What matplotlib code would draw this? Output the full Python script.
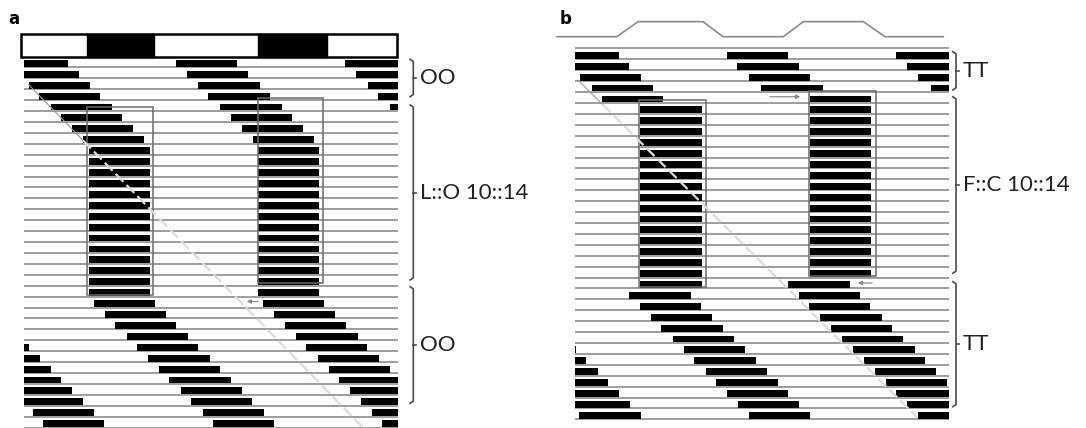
import matplotlib
matplotlib.use("Agg")
import matplotlib.pyplot as plt
from matplotlib.patches import Rectangle

# x in hours (one plotted day = 24 h), y in rows (one row per day, 1 = top)
DAY = 24.0
XMAX = 53.0
ROWS = list(range(1, 35))

# panel a: activity onset per row (h): free run -> L::O 10::14 -> free run
a_onset = [-2.4, -0.84, 0.78, 2.2, 3.9, 5.35, 6.9, 8.45,
           9.25, 9.25, 9.25, 9.25, 9.25, 9.25, 9.25,
           9.25, 9.25, 9.25, 9.25, 9.25, 9.25, 9.25,
           9.93, 11.53, 13.0, 14.66, 16.07, 17.7, 19.2, 20.67,
           22.25, 23.74, 25.37, 26.81]
a_active = 8.65
a_dark = [(9.04, 18.48), (33.26, 42.95)]
a_boxes = [(9.04, 18.30, 4.68, 21.84), (33.26, 42.38, 3.77, 20.77)]
a_sections = [("OO", 0.27, 3.69), ("L::O 10::14", 4.45, 20.48), ("OO", 21.09, 31.77)]
a_freerun = [(0.78, 2.62), (48.09, 34.0)]
a_arrows = [(33.64, 31.23, 22.45)]

# panel b: same layout under a temperature cycle F::C 10::14
b_onset = [-2.51, -1.01, 0.65, 2.4, 3.78,
           9.25, 9.25, 9.25, 9.25, 9.25, 9.25, 9.25, 9.25, 9.25,
           9.25, 9.25, 9.25, 9.25, 9.25, 9.25, 9.25, 9.25,
           7.66, 9.15, 10.76, 12.25, 13.81, 15.39, 16.9, 18.5,
           20.01, 21.52, 23.05, 24.58]
b_onset_next = {5: 9.29, 22: 6.21}   # second-day onset where it differs
b_active = 8.7
b_temp_t = [-2.55, 5.91, 8.92, 18.13, 20.96, 29.5, 32.34, 40.84, 43.91, 52.17]
b_temp_hi = [0, 0, 1, 1, 0, 0, 1, 1, 0, 0]
b_boxes = [(9.07, 18.51, 4.74, 21.9), (33.19, 42.59, 3.89, 20.84)]
b_sections = [("TT", 0.30, 3.81), ("F::C 10::14", 4.43, 20.61), ("TT", 21.38, 32.84)]
b_freerun = [(0.42, 2.9), (48.44, 33.79)]
b_arrows = [(27.2, 32.3, 4.43), (42.49, 39.66, 21.5)]

LINE = "#8c8c8c"
plt.rcParams["font.family"] = ["Lato", "DejaVu Sans"]


def draw_rows(ax, onset, active, first_row=1, next_onset=None):
    next_onset = next_onset or {}
    ax.hlines(range(first_row, 35), 0, XMAX, color=LINE, lw=1.2, zorder=1)
    for r, ph in zip(ROWS, onset):
        spans = []
        for k in range(-2, 4):
            start = (next_onset.get(r, ph) if k >= 1 else ph) + k * DAY
            s, e = max(start, 0), min(start + active, XMAX)
            if e > s:
                spans.append((s, e - s))
        ax.broken_barh(spans, (r - 0.68, 0.63), facecolor="black", zorder=2)


def draw_boxes(ax, boxes):
    for x0, x1, y0, y1 in boxes:
        ax.add_patch(Rectangle((x0, y0), x1 - x0, y1 - y0, fill=False,
                               edgecolor="#6a6a6a", lw=1.1, zorder=3))


def draw_freerun(ax, pts, split):
    (x0, y0), (x1, y1) = pts
    ys = y0 + (split - x0) / (x1 - x0) * (y1 - y0)
    ax.plot([x0, split], [y0, ys], color="#9a9a9a", lw=0.8, zorder=4)
    ax.plot([split, x1], [ys, y1], color="#dcdcdc", lw=1.6,
            ls=(0, (5, 2)), zorder=4)


def draw_arrows(ax, arrows):
    for xa, xb, y in arrows:
        ax.annotate("", xy=(xb, y), xytext=(xa, y),
                    arrowprops=dict(arrowstyle="-|>", color="#8a8a8a", lw=0.9,
                                    mutation_scale=6), zorder=5)


def draw_sections(ax, sections, xb):
    for label, top, bot in sections:
        mid = (top + bot) / 2
        ax.plot([xb - 0.45, xb, xb, xb - 0.45],
                [top, top + 0.2, bot - 0.2, bot], color="#4a4a4a", lw=1.2)
        ax.plot([xb, xb + 0.45], [mid, mid], color="#4a4a4a", lw=1.2)
        ax.text(xb + 1.0, mid, label, fontsize=16, va="center", ha="left",
                color="#222222")


fig = plt.figure(figsize=(10.86, 4.28), dpi=100)

# ---- panel a ----
ax = fig.add_axes([0, 0, 470 / 1086, 1])
ax.set_xlim(-3.329, 63.24)
ax.set_ylim(34.03, -5.163)
ax.axis("off")
ax.add_patch(Rectangle((-0.4, -2.02), 53.35, 2.1, fill=False,
                       edgecolor="black", lw=1.8, zorder=3))
for d0, d1 in a_dark:
    ax.add_patch(Rectangle((d0, -2.02), d1 - d0, 2.1, facecolor="black",
                           edgecolor="black", lw=1.0, zorder=3))
draw_rows(ax, a_onset, a_active, first_row=1)
draw_boxes(ax, a_boxes)
draw_freerun(ax, a_freerun, 8.44)
draw_arrows(ax, a_arrows)
draw_sections(ax, a_sections, 55.21)
ax.text(-1.35, -3.42, "a", fontsize=12, fontweight="bold", ha="center",
        va="center", family="DejaVu Sans")

# ---- panel b ----
bx = fig.add_axes([540 / 1086, 0, 546 / 1086, 1])
bx.set_xlim(-4.958, 72.38)
bx.set_ylim(34.79, -4.435)
bx.axis("off")
temp_y = [-2.45 if h else -1.07 for h in b_temp_hi]
bx.plot(b_temp_t, temp_y, color="#8a8a8a", lw=1.2)
draw_rows(bx, b_onset, b_active, first_row=0, next_onset=b_onset_next)
draw_boxes(bx, b_boxes)
draw_freerun(bx, b_freerun, 3.9)
draw_arrows(bx, b_arrows)
draw_sections(bx, b_sections, 53.97)
bx.text(-1.27, -2.69, "b", fontsize=12, fontweight="bold", ha="center",
        va="center", family="DejaVu Sans")

fig.savefig("out.png", dpi=100)
